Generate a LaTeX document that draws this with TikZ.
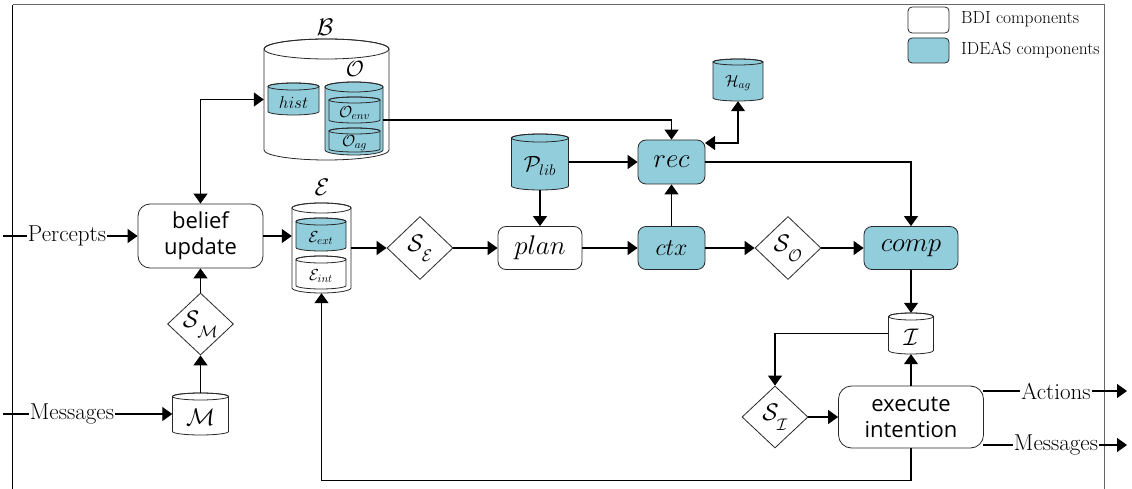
\RequirePackage{fix-cm}
\documentclass[tikz,border=0pt]{standalone}
\usepackage{fontspec}
\setsansfont{Open Sans}
\usetikzlibrary{arrows.meta,shapes.geometric,calc}
\definecolor{ideas}{RGB}{146,205,220}
\definecolor{edge}{RGB}{40,40,40}
\newcommand\dbcyl[8]{%
 \pgfmathsetmacro\cylcx{(#2+#3)/2}%
 \pgfmathsetmacro\cylrx{(#3-#2)/2}%
 \pgfmathsetmacro\cylT{-(#4)-(#6)}%
 \pgfmathsetmacro\cylB{-(#5)+(#6)}%
 \pgfmathsetmacro\cylM{-((#4)+2*(#6)+(#5))/2}%
 \pgfmathsetmacro\cylC{-((#4)+(#5))/2}%
 \pgfmathsetmacro\cylh{(#5)-(#4)}%
 \pgfmathsetmacro\cylw{(#3)-(#2)}%
 \filldraw[fill=#7,draw=edge,line width=0.8pt] (#2,\cylT) -- (#2,\cylB)
   arc[start angle=180,end angle=360,x radius=\cylrx,y radius=#6] -- (#3,\cylT)
   arc[start angle=0,end angle=180,x radius=\cylrx,y radius=#6] -- cycle;
 \draw[draw=edge,line width=0.8pt] (\cylcx,\cylT) ellipse[x radius=\cylrx,y radius=#6];
 \node[inner sep=0pt,minimum width=\cylw pt,minimum height=\cylh pt] (#1) at (\cylcx,\cylC) {};
 \node[inner sep=0pt] at (\cylcx,\cylM) {#8};
}
\newcommand\selfn[2]{$\mathcal{#1}_{\raisebox{-6pt}{$\scriptstyle\mathcal{#2}$}}$}
\tikzset{
 arr/.style={-{Triangle[length=10pt,width=14pt]},line width=1.2pt},
 arrb/.style={{Triangle[length=10pt,width=14pt]}-{Triangle[length=10pt,width=14pt]},line width=1.2pt},
 plainline/.style={line width=1.2pt},
 proc/.style={draw=edge,line width=0.8pt,rounded corners=8pt,inner sep=0pt,align=center},
 dia/.style={draw=edge,line width=0.8pt,diamond,inner sep=0pt,minimum width=66pt,minimum height=63pt},
 lbl/.style={inner sep=1pt,font=\fontsize{23}{26}\selectfont},
}
\begin{document}
\begin{tikzpicture}[x=1pt,y=1pt]
\useasboundingbox (0,0) rectangle (1132,-489);
% frame
\draw[line width=1pt] (12.7,-489) -- (12.7,-5);
\draw[gray!80!black,line width=1pt] (12.7,-5) -- (1104,-5) -- (1104,-489);
% legend
\node[proc,rounded corners=4pt,minimum width=41pt,minimum height=26pt,fill=white] (legbdi) at (928.5,-20) {};
\node[proc,rounded corners=4pt,minimum width=41pt,minimum height=25pt,fill=ideas] (legideas) at (928.5,-50.5) {};
\node[anchor=west,inner sep=0pt,font=\fontsize{17.5}{20}\selectfont] (legt1) at (961,-19) {BDI components};
\node[anchor=west,inner sep=0pt,font=\fontsize{17.5}{20}\selectfont] (legt2) at (961,-50) {IDEAS components};
% belief base
\node[font=\fontsize{24}{28}\selectfont] (Blab) at (325,-27) {$\mathcal{B}$};
\dbcyl{B}{264}{389}{39}{160}{10}{white}{}
\dbcyl{hist}{268}{319}{83}{115}{3.5}{ideas}{\fontsize{17}{20}\selectfont$hist$}
\node[font=\fontsize{22}{26}\selectfont] (Olab) at (355,-69) {$\mathcal{O}$};
\dbcyl{O}{325}{383}{82}{155}{5}{ideas}{}
\dbcyl{Oenv}{329}{380}{97}{123}{3}{ideas}{\fontsize{16}{18}\selectfont$\mathcal{O}_{env}$}
\dbcyl{Oag}{329}{380}{128}{152}{3}{ideas}{\fontsize{16}{18}\selectfont$\mathcal{O}_{ag}$}
% events
\node[font=\fontsize{24}{28}\selectfont] (Elab) at (322,-187) {$\mathcal{E}$};
\dbcyl{E}{292}{351}{203}{293}{5}{white}{}
\dbcyl{Eext}{296}{346}{218}{251}{3.5}{ideas}{\fontsize{16}{18}\selectfont$\mathcal{E}_{ext}$}
\dbcyl{Eint}{296}{346}{256}{289}{3.5}{white}{\fontsize{16}{18}\selectfont$\mathcal{E}_{int}$}
% other stores
\dbcyl{Plib}{511.5}{568.5}{134}{190}{4}{ideas}{\fontsize{22}{26}\selectfont$\mathcal{P}_{lib}$}
\dbcyl{Hag}{713}{763}{59}{101}{3}{ideas}{\fontsize{16}{18}\selectfont$\mathcal{H}_{ag}$}
\dbcyl{M}{172.5}{228.5}{393}{435}{3.5}{white}{\fontsize{24}{28}\selectfont$\mathcal{M}$}
\dbcyl{I}{888.5}{933.5}{313}{354}{3.5}{white}{\fontsize{24}{28}\selectfont$\mathcal{I}$}
% processes
\node[proc,rounded corners=12pt,minimum width=125pt,minimum height=64pt,font=\sffamily\fontsize{22}{26}\selectfont] (belief) at (200.5,-236) {belief\\update};
\node[proc,minimum width=84pt,minimum height=43pt,font=\fontsize{27}{30}\selectfont] (plan) at (540,-248) {$plan$};
\node[proc,fill=ideas,minimum width=67pt,minimum height=43pt,font=\fontsize{24}{28}\selectfont] (ctx) at (671.5,-248) {$ctx$};
\node[proc,fill=ideas,minimum width=67pt,minimum height=44pt,font=\fontsize{27}{30}\selectfont] (rec) at (671.5,-162) {$rec$};
\node[proc,fill=ideas,minimum width=94pt,minimum height=43pt,font=\fontsize{27}{30}\selectfont] (comp) at (911,-248) {$comp$};
\node[proc,rounded corners=13pt,minimum width=145pt,minimum height=62pt,font=\sffamily\fontsize{22}{26}\selectfont] (exec) at (911,-417) {execute\\intention};
% selection functions
\node[dia,font=\fontsize{24}{28}\selectfont] (SE) at (420,-248) {\selfn{S}{E}};
\node[dia,font=\fontsize{24}{28}\selectfont] (SO) at (788,-248) {\selfn{S}{O}};
\node[dia,minimum height=62pt,font=\fontsize{24}{28}\selectfont] (SM) at (200.5,-324) {\selfn{S}{M}};
\node[dia,minimum height=62pt,font=\fontsize{24}{28}\selectfont] (SI) at (775,-417) {\selfn{S}{I}};
% external inputs / outputs
\coordinate (pin) at (3,-236);
\node[lbl] (percepts) at (67,-236) {Percepts};
\coordinate (min) at (3,-414);
\node[lbl] (msgin) at (72,-414) {Messages};
\coordinate (actstart) at (983,-391);
\node[lbl] (actions) at (1056,-391) {Actions};
\coordinate (actend) at (1127,-391);
\coordinate (msgstart) at (983,-445);
\node[lbl] (msgout) at (1056,-445) {Messages};
\coordinate (msgend) at (1127,-445);
\coordinate (oenvout) at (383,-120);
\coordinate (recne) at (705,-143);
% connectors
\draw[plainline] (pin) -- (percepts.west);
\draw[arr] (percepts.east) -- (belief.west);
\draw[plainline] (min) -- (msgin.west);
\draw[arr] (msgin.east) -- (M.west);
\draw[arr] (M.north) -- (SM.south);
\draw[arr] (SM.north) -- (belief.south);
\draw[arrb] (belief.north) |- (B.west);
\draw[arr] (belief.east) -- (belief.east -| E.west);
\draw[arr] (E.east) -- (SE.west);
\draw[arr] (SE.east) -- (plan.west);
\draw[arr] (plan.east) -- (ctx.west);
\draw[arr] (ctx.north) -- (rec.south);
\draw[arr] (Plib.east) -- (rec.west);
\draw[arr] (Plib.south) -- (plan.north);
\draw[arr] (oenvout) -| (rec.north);
\draw[arrb] (recne) -| (Hag.south);
\draw[arr] (rec.east) -| (comp.north);
\draw[arr] (ctx.east) -- (SO.west);
\draw[arr] (SO.east) -- (comp.west);
\draw[arr] (comp.south) -- (I.north);
\draw[arr] (I.west) -| (SI.north);
\draw[arr] (SI.east) -- (exec.west);
\draw[arr] (exec.north) -- (I.south);
\draw[arr] (exec.south) -- ++(0,-32) -| (E.south);
\draw[plainline] (actstart) -- (actions.west);
\draw[arr] (actions.east) -- (actend);
\draw[plainline] (msgstart) -- (msgout.west);
\draw[arr] (msgout.east) -- (msgend);
\end{tikzpicture}
\end{document}
